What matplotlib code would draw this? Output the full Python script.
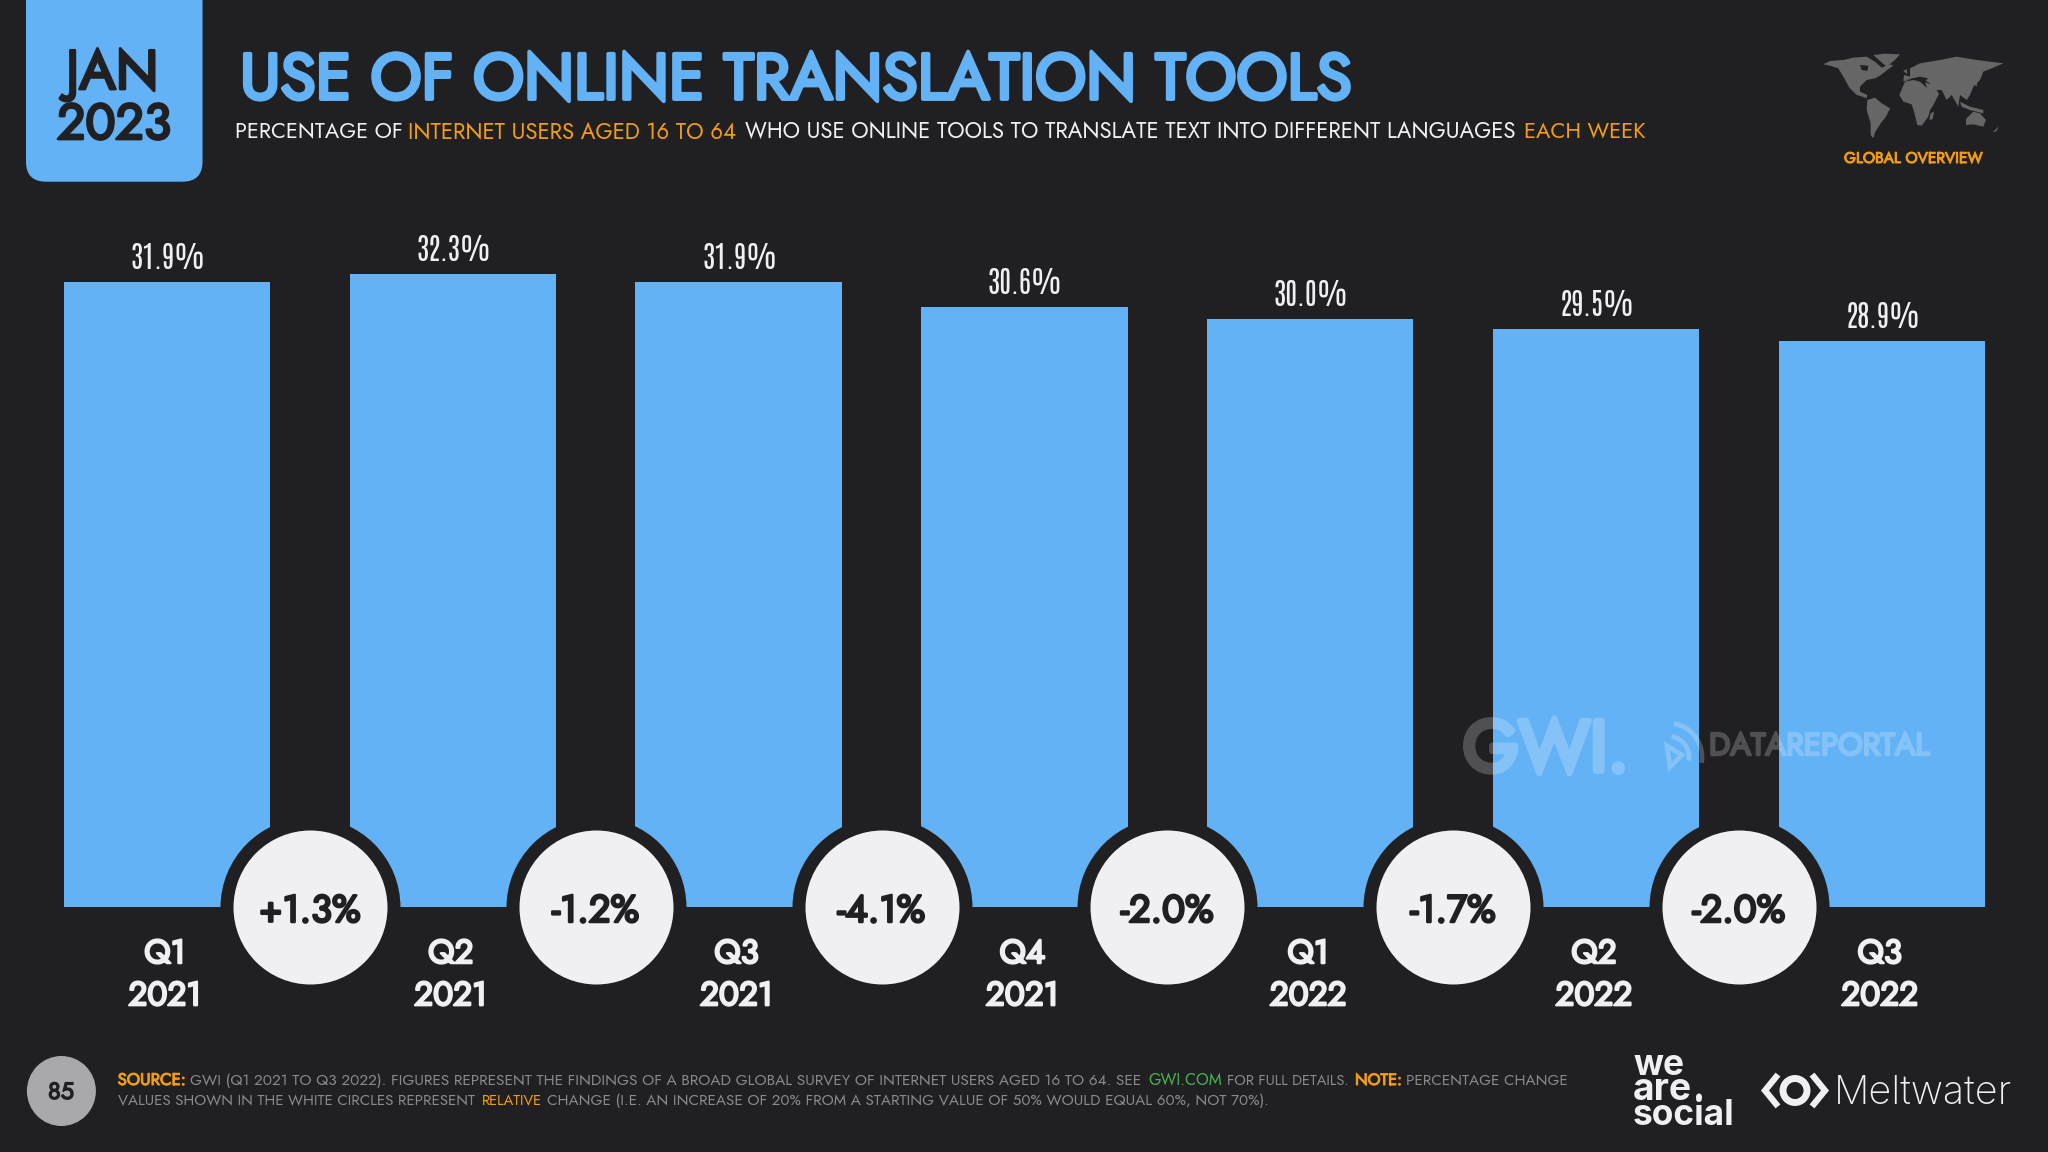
import matplotlib
matplotlib.use("Agg")
import matplotlib.pyplot as plt
from matplotlib.patches import FancyBboxPatch, Ellipse, Polygon, Arc
from matplotlib import font_manager as fm
from matplotlib import patheffects as pe
from matplotlib.transforms import ScaledTranslation

# ---- data ----
quarters = ["Q1\n2021", "Q2\n2021", "Q3\n2021", "Q4\n2021", "Q1\n2022", "Q2\n2022", "Q3\n2022"]
values = [31.9, 32.3, 31.9, 30.6, 30.0, 29.5, 28.9]
changes = ["+1.3%", "-1.2%", "-4.1%", "-2.0%", "-1.7%", "-2.0%"]

BG = "#202022"
BLUE = "#62B2F5"
ORANGE = "#F39C14"
WHITE = "#F0EFF2"
GREY = "#8A8A8C"
GREEN = "#4CAF50"

names = {f.name for f in fm.fontManager.ttflist}


def pick(*opts):
    for o in opts:
        if o in names:
            return o
    return "DejaVu Sans"


GEO = pick("Jost", "Lato")
COND = pick("Antonio", "Oswald", "Roboto")

W, H = 2048, 1152
fig = plt.figure(figsize=(W / 100, H / 100), dpi=100, facecolor=BG)


def bold(lw, color):
    return [pe.withStroke(linewidth=lw, foreground=color)]


def fade(img, dpi):
    img = img.copy()
    img[..., 3] *= 0.22
    return img, 0, 0


# ---- bar chart axes spanning the whole canvas, scaled to pixel geometry ----
PITCH, X0, BASE, PX_PER = 285.8, 167.0, 907.0, 19.6
ax = fig.add_axes([0, (H - BASE) / H, 1, BASE / H], facecolor="none")
ax.set_xlim(-X0 / PITCH, (W - X0) / PITCH)
ax.set_ylim(0, BASE / PX_PER)
for s in ax.spines.values():
    s.set_visible(False)
ax.yaxis.set_visible(False)
xs = list(range(len(values)))
ax.bar(xs, values, width=206.5 / PITCH, color=BLUE, zorder=2)
ax.set_xticks(xs)
ax.set_xticklabels(quarters, family=GEO, fontsize=24, color=WHITE, linespacing=1.3)
ax.tick_params(axis="x", length=0, pad=21)
shift = ScaledTranslation(-2 / 100, 0, fig.dpi_scale_trans)
for lab in ax.get_xticklabels():
    lab.set_path_effects(bold(1.6, WHITE))
    lab.set_transform(lab.get_transform() + shift)

for x, v in zip(xs, values):
    ax.annotate(f"{v:.1f}%", xy=(x, v), xytext=(1, 13), textcoords="offset pixels",
                ha="center", va="baseline", family=COND, fontsize=21, color=WHITE, zorder=6)

mids = [x + 0.5 for x in xs[:-1]]
yc = [0] * len(mids)
pt = 72 / 100
ax.scatter(mids, yc, s=(180 * pt) ** 2, color=BG, linewidths=0, zorder=3, clip_on=False)
ax.scatter(mids, yc, s=(154 * pt) ** 2, color=WHITE, linewidths=0, zorder=4, clip_on=False)
for x, c in zip(mids, changes):
    t = ax.annotate(c, xy=(x, 0), xytext=(0, -15), textcoords="offset pixels", ha="center",
                    va="baseline", family=GEO, fontsize=27.5, color=BG, zorder=5)
    t.set_path_effects(bold(1.8, BG))

# ---- pixel overlay for furniture ----
ov = fig.add_axes([0, 0, 1, 1], facecolor="none", zorder=10)
ov.set_xlim(0, W)
ov.set_ylim(H, 0)
ov.axis("off")
renderer = fig.canvas.get_renderer()


def fit(x0, x1, base, s, family=GEO, weight="normal", color=WHITE, size=20, stroke=0):
    t = ov.text(x0, base, s, family=family, fontweight=weight, color=color, fontsize=size,
                ha="left", va="baseline")
    w = t.get_window_extent(renderer).width
    t.set_fontsize(size * (x1 - x0) / w)
    if stroke:
        t.set_path_effects(bold(stroke, color))
    return t


# date tab
ov.add_patch(FancyBboxPatch((26, -40), 176.5, 221.7, boxstyle="round,pad=0,rounding_size=20",
                            fc=BLUE, ec="none", zorder=1))
fit(66, 159, 89, "JAN", color=BG, stroke=2.0)
fit(57, 171, 139, "2023", color=BG, stroke=2.0)

# title & subtitle
fit(240, 1355, 99, "USE OF ONLINE TRANSLATION TOOLS", color=BLUE, stroke=2.8)
fit(235, 403, 138, "PERCENTAGE OF")
fit(408.5, 738.5, 138, "INTERNET USERS AGED 16 TO 64", color=ORANGE)
fit(745, 1517, 138, "WHO USE ONLINE TOOLS TO TRANSLATE TEXT INTO DIFFERENT LANGUAGES")
fit(1524, 1646, 138, "EACH WEEK", color=ORANGE)

# world map (decorative)
zx = lambda x: 1810 + x / 3
zy = lambda y: 45 + y / 3
land = [
    [(40,58),(60,48),(100,45),(130,38),(170,35),(195,50),(215,68),(240,58),(250,62),(232,75),(210,92),
     (195,100),(170,105),(150,125),(150,140),(172,150),(170,160),(158,155),(140,150),(118,128),(100,95),(85,70),(60,62)],
    [(190,30),(225,26),(270,28),(255,45),(230,65),(210,48)],
    [(172,165),(195,158),(215,175),(240,190),(228,215),(212,235),(195,262),(190,280),(182,270),(182,235),(170,195)],
    [(285,110),(310,105),(330,110),(350,128),(362,140),(385,150),(370,180),(360,195),(355,215),(335,242),
     (322,240),(312,200),(305,178),(280,170),(268,150)],
    [(280,110),(282,90),(300,95),(300,70),(330,55),(390,45),(440,35),(500,45),(580,55),(545,70),(520,80),
     (510,105),(490,125),(480,150),(470,165),(450,150),(445,185),(425,150),(410,165),(395,135),(370,135),
     (360,115),(335,100),(310,100)],
    [(345,112),(370,120),(388,148),(362,160)],
    [(362,205),(372,200),(368,222),(358,225)],
    [(468,222),(490,200),(510,205),(528,225),(520,245),(490,238),(468,240)],
    [(450,170),(480,185),(520,195),(520,205),(480,195),(455,185)],
    [(490,115),(502,105),(500,125)],
    [(548,262),(565,245),(560,258)],
    [(280,78),(290,72),(292,88)],
]
water = [
    [(150,60),(175,62),(172,78),(155,75)],
    [(285,105),(330,95),(355,100),(345,108),(310,102)],
]
for c in land:
    ov.add_patch(Polygon([(zx(a), zy(b)) for a, b in c], closed=True, fc="#666667", ec="none"))
for c in water:
    ov.add_patch(Polygon([(zx(a), zy(b)) for a, b in c], closed=True, fc=BG, ec="none"))
fit(1844, 1983, 163, "GLOBAL OVERVIEW", color=ORANGE, stroke=0.7)

# watermark
for t in (fit(1463, 1629, 771, "GWI.", color="#ffffff", stroke=4.2),
          fit(1709, 1930, 755, "DATAREPORTAL", color="#ffffff", stroke=1.8)):
    t.set_agg_filter(fade)
ov.add_patch(Arc((1668, 757), 42, 42, theta1=-80, theta2=10, ec="#ffffff", lw=3.5, alpha=0.22))
ov.add_patch(Arc((1668, 757), 68, 68, theta1=-80, theta2=10, ec="#ffffff", lw=3.5, alpha=0.22))
ov.add_patch(Polygon([(1667, 746), (1682, 755), (1670, 767)], closed=True, fc="none", ec="#ffffff", lw=3.5, alpha=0.22))

# footer
ov.add_patch(Ellipse((61.4, 1091), 69, 70, fc="#A9A9AB", ec="none"))
fit(48, 74, 1099, "85", color=BG, stroke=1.0)
base1, base2 = 1085, 1105
fit(117.6, 186, base1, "SOURCE:", color=ORANGE, stroke=0.7)
fit(189.5, 1145, base1, "GWI (Q1 2021 TO Q3 2022). FIGURES REPRESENT THE FINDINGS OF A BROAD GLOBAL SURVEY OF INTERNET USERS AGED 16 TO 64. SEE", color=GREY)
fit(1148, 1222, base1, "GWI.COM", color=GREEN)
fit(1226.6, 1349.5, base1, "FOR FULL DETAILS.", color=GREY)
fit(1355, 1402, base1, "NOTE:", color=ORANGE, stroke=0.7)
fit(1406, 1568, base1, "PERCENTAGE CHANGE", color=GREY)
fit(117.6, 477, base2, "VALUES SHOWN IN THE WHITE CIRCLES REPRESENT", color=GREY)
fit(481.7, 542.5, base2, "RELATIVE", color=ORANGE)
fit(547, 1272, base2, "CHANGE (I.E. AN INCREASE OF 20% FROM A STARTING VALUE OF 50% WOULD EQUAL 60%, NOT 70%).", color=GREY)

# logos
fit(1633, 1684, 1075, "we", family="Inter", weight="bold")
fit(1633, 1692, 1100, "are", family="Inter", weight="bold")
ov.add_patch(Ellipse((1699, 1097), 6, 7, fc=WHITE, ec="none"))
fit(1633, 1735, 1125, "social", family="Inter", weight="bold")
ov.plot([1776, 1765, 1776], [1077, 1090.5, 1104], color=WHITE, lw=4.5, solid_joinstyle="miter")
ov.plot([1814, 1825, 1814], [1077, 1090.5, 1104], color=WHITE, lw=4.5, solid_joinstyle="miter")
ov.add_patch(Ellipse((1795, 1090.5), 24, 24, fc="none", ec=WHITE, lw=5))
fit(1834, 2011, 1104, "Meltwater", family="Inter", weight="light")

fig.savefig("out.png", dpi=100, facecolor=BG)
